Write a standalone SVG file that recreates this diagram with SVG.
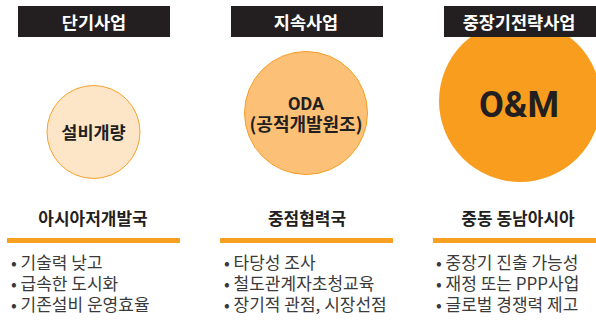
<svg xmlns="http://www.w3.org/2000/svg" width="596" height="320" viewBox="0 0 596 320">
<style>
.hdr{fill:#231f20}
.hdrt{font-family:"Noto Sans CJK KR","Noto Sans",sans-serif;font-weight:700;font-size:17.5px;fill:#ffffff;text-anchor:middle}
.ct{font-family:"Noto Sans CJK KR","Noto Sans",sans-serif;font-weight:700;font-size:17.5px;fill:#231f20;text-anchor:middle}
.h2{font-family:"Noto Sans CJK KR","Noto Sans",sans-serif;font-weight:700;font-size:17px;fill:#231f20;text-anchor:middle}
.bar{fill:#f7a021}
.bl{font-family:"Noto Sans CJK KR","Noto Sans",sans-serif;font-weight:400;font-size:17px;fill:#3a3a3a}
</style>
<rect width="596" height="320" fill="#ffffff"/>
<g id="col1">
  <circle cx="93.5" cy="132" r="46.5" fill="#fde6c8" stroke="#f7a12a" stroke-width="1"/>
  <text class="ct" x="93.5" y="139">설비개량</text>
  <rect class="hdr" x="18" y="6" width="152" height="31"/>
  <text class="hdrt" x="94" y="28.5">단기사업</text>
  <text class="h2" x="93" y="225">아시아저개발국</text>
  <rect class="bar" x="7" y="238" width="173" height="5"/>
  <text class="bl" x="11" y="269">• 기술력 낮고</text>
  <text class="bl" x="11" y="290">• 급속한 도시화</text>
  <text class="bl" x="11" y="311">• 기존설비 운영효율</text>
</g>
<g id="col2">
  <circle cx="306" cy="113" r="61.5" fill="#fcc077" stroke="#f5a025" stroke-width="1"/>
  <text class="ct" x="306" y="110" style="font-family:Roboto,'Noto Sans CJK KR',sans-serif;font-size:18px">ODA</text>
  <text class="ct" x="306" y="131" style="font-size:18px">(공적개발원조)</text>
  <rect class="hdr" x="231" y="6" width="152" height="31"/>
  <text class="hdrt" x="306" y="28.5">지속사업</text>
  <text class="h2" x="307" y="225">중점협력국</text>
  <rect class="bar" x="220" y="238" width="173" height="5"/>
  <text class="bl" x="224" y="269">• 타당성 조사</text>
  <text class="bl" x="224" y="290">• 철도관계자초청교육</text>
  <text class="bl" x="224" y="311">• 장기적 관점, 시장선점</text>
</g>
<g id="col3">
  <circle cx="520" cy="101" r="81" fill="#f89d1e"/>
  <text class="ct" x="519" y="117" style="font-family:Roboto,'Noto Sans',sans-serif;font-size:36px">O&amp;M</text>
  <rect class="hdr" x="444" y="6" width="152" height="31"/>
  <text class="hdrt" x="519" y="28.5">중장기전략사업</text>
  <text class="h2" x="518" y="225">중동 동남아시아</text>
  <rect class="bar" x="433" y="238" width="173" height="5"/>
  <text class="bl" x="436" y="269">• 중장기 진출 가능성</text>
  <text class="bl" x="436" y="290">• 재정 또는 PPP사업</text>
  <text class="bl" x="436" y="311">• 글로벌 경쟁력 제고</text>
</g>
<g id="connectors"></g>
</svg>
